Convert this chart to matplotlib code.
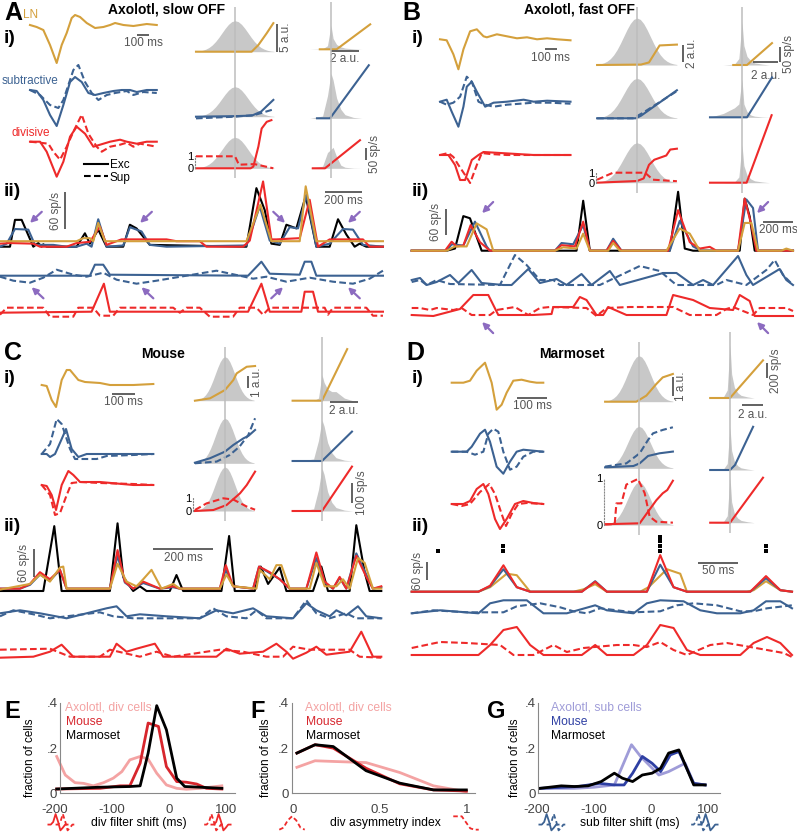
import numpy as np
import matplotlib.pyplot as plt
from matplotlib.lines import Line2D

plt.rcParams['font.family'] = ['Liberation Sans', 'DejaVu Sans']

W, H = 797, 835
fig = plt.figure(figsize=(W / 100, H / 100), dpi=100)

GOLD, BLUE, RED = '#D4A03C', '#3C6292', '#EE2A2A'
PURPLE, FILL, VLINE, GREY = '#8C6BC0', '#C8C8C8', '#BDBDBD', '#555555'

# ---------------- data ----------------
# filters: (sample, amplitude); ms per sample given by *_fdt
A_fdt, B_fdt, C_fdt, D_fdt = 2.78, 2.86, 1.43, 1.11
A_ln = [(0,0),(20,-2),(40,-5),(60,-20),(80,-38),(95,-20),(110,-8),(125,7),(135,10),(150,8),(170,2),(195,-3),(220,-2),(240,0),(255,2),(280,0),(310,-1),(350,1),(380,0)]
A_sub_exc = [(0,0),(20,-1),(40,-10),(60,-25),(80,-36),(100,-15),(120,8),(135,13),(155,8),(175,-3),(195,-5),(220,-3),(250,-1),(275,0),(300,0),(320,-2),(350,0),(380,0)]
A_sub_sup = [(0,0),(30,-5),(60,-15),(85,-18),(100,-10),(115,5),(130,20),(145,25),(165,8),(185,-3),(205,-10),(230,-5),(255,-3),(290,-1),(310,-5),(340,-2),(380,-3)]
A_div_exc = [(0,0),(30,0),(50,-10),(80,-35),(100,-20),(120,5),(140,15),(165,8),(190,-5),(210,-3),(240,0),(270,2),(290,0),(320,-2),(350,0),(380,0)]
A_div_sup = [(0,0),(30,-1),(55,-2),(70,-10),(90,-18),(110,-5),(130,10),(155,27),(175,8),(200,-5),(215,-10),(240,-5),(270,-3),(290,-1),(310,-5),(330,-2),(380,-5)]
B_ln = [(0,0),(20,-1),(40,-15),(55,-30),(70,-10),(90,8),(110,10),(130,3),(140,2),(170,5),(200,3),(230,1),(260,2),(290,0),(320,1),(350,0),(390,-1)]
B_sub_exc = [(0,0),(20,2),(35,-10),(55,-25),(70,-5),(80,15),(95,20),(110,10),(135,-5),(160,-1),(200,0),(250,2),(280,0),(320,1),(390,0)]
B_sub_sup = [(0,0),(20,-3),(40,-1),(60,5),(80,25),(95,20),(115,0),(135,-3),(160,-5),(200,-3),(240,-2),(280,-1),(330,-1),(390,-2)]
B_div_exc = [(0,0),(25,0),(45,-10),(60,-25),(75,-25),(95,-5),(115,0),(130,3),(180,2),(230,1),(280,0),(390,0)]
B_div_sup = [(0,0),(25,2),(40,-2),(55,-10),(75,-20),(90,-28),(110,-10),(125,2),(150,1),(200,0),(390,0)]
C_ln = [(0,0),(15,-1),(30,-15),(43,-22),(60,5),(75,15),(85,15),(110,5),(130,3),(175,2),(205,0),(275,0),(335,1)]
C_sub_exc = [(0,0),(15,0),(25,-3),(40,0),(60,15),(73,25),(90,5),(110,-3),(135,0),(175,0),(275,0),(335,0)]
C_sub_sup = [(0,0),(25,10),(45,35),(60,30),(85,5),(100,-5),(135,-5),(165,-5),(195,-2),(275,-1),(335,0)]
C_div_exc = [(0,0),(15,-1),(30,-10),(43,-25),(60,0),(80,14),(95,10),(115,3),(175,3),(275,0),(335,0)]
C_div_sup = [(0,0),(25,-10),(40,-30),(55,-28),(75,-10),(90,2),(115,3),(175,2),(275,1),(335,0)]
D_ln = [(0,0),(35,0),(55,2),(75,12),(100,20),(120,0),(135,-27),(150,-22),(165,-10),(185,2),(210,3),(235,1),(255,0),(275,0)]
D_sub_exc = [(0,0),(45,0),(60,5),(85,18),(100,22),(115,10),(135,-15),(155,-22),(175,-10),(195,0),(215,2),(245,1),(275,0)]
D_sub_sup = [(0,0),(45,0),(70,-3),(95,0),(110,18),(125,23),(140,20),(155,0),(175,-18),(195,-15),(215,-5),(245,0),(275,0)]
D_div_exc = [(0,0),(35,0),(55,3),(75,15),(95,20),(110,10),(130,-15),(145,-25),(165,-15),(190,0),(215,3),(245,1),(275,0)]
D_div_sup = [(0,0),(30,-2),(55,0),(85,12),(113,20),(130,10),(150,-10),(163,-22),(180,-10),(200,0),(225,1),(275,0)]

# nonlinearities, column 1: (generator, a.u.); weights 0..1
gauss_x = [-3,-2.75,-2.5,-2.25,-2,-1.75,-1.5,-1.25,-1,-0.75,-0.5,-0.25,0,0.25,0.5,0.75,1,1.25,1.5,1.75,2,2.25,2.5,2.75,3]
gauss_y = [.011,.023,.044,.08,.135,.216,.325,.458,.607,.755,.882,.969,1,.969,.882,.755,.607,.458,.325,.216,.135,.08,.044,.023,.011]
A_nl_ln = [(-3,0),(1.28,0),(1.8,1.2),(2.44,3.3),(2.95,5.1)]
A_nl_sub_exc = [(-3,0),(0,0.1),(1.3,0.2),(2,0.9),(2.95,3.0)]
A_nl_sub_sup = [(-3,-0.3),(0,0),(1.5,0.3),(2.95,1.3)]
A_nl_div = [(-3,0),(1.2,0),(1.41,0.3),(1.8,3.9),(2.05,7.1),(2.44,8.3),(2.8,8.6)]
A_w_div = [(-3,1),(0,1),(0.3,0.3),(1.5,0.35),(2.95,0.0)]
B_nl_ln = [(-3,0),(0.3,0.05),(0.9,0.3),(1.3,1.3),(1.7,2.3),(3,2.4)]
B_nl_sub_exc = [(-3,0),(-0.1,0),(0.3,0.3),(3,3.3)]
B_nl_sub_sup = [(-3,0),(-0.3,0),(0.4,0.6),(3,3.2)]
B_nl_div = [(-3,0),(0,0.2),(0.5,0.5),(0.9,2.1),(1.3,2.7),(2.2,3.2),(2.5,3.9),(3,4.0)]
B_w_div = [(-3,0.3),(-1.8,1),(0.6,1),(1.2,0.3),(3,0.15)]
C_nl_ln = [(-3.1,0),(-1.55,0.19),(0,0.87),(0.86,1.68),(1.2,2.22),(2.24,2.76),(3.1,2.82)]
C_nl_sub_exc = [(-3.1,0.05),(-1.55,0.41),(0,0.95),(0.86,1.49),(1.9,2.03),(2.4,2.22),(3.1,2.71)]
C_nl_sub_sup = [(-3.1,0),(-0.86,0.14),(0.5,0.68),(1.5,1.36),(2.4,2.3),(3.1,3.66)]
C_nl_div = [(-3.1,0),(-1.2,0.08),(0.17,0.49),(1.55,1.44),(2.24,2.11),(3.1,3.2)]
C_w_div = [(-3.1,0.08),(-1.9,0.6),(-0.17,1.0),(0.86,0.9),(2.24,0.35),(3.1,0.1)]
D_nl_ln = [(-3,0),(-0.24,0),(0.65,0.32),(1.53,0.93),(2.1,1.28),(3,1.46)]
D_nl_sub_exc = [(-3,0.05),(-0.5,0.12),(0.06,0.26),(0.8,0.65),(1.82,0.79),(3,0.88)]
D_nl_sub_sup = [(-3,0.09),(-1.12,0.26),(0.06,0.79),(0.8,1.49),(1.24,1.84),(2.1,2.02),(3,2.16)]
D_nl_div = [(-3,0.04),(0.06,0.09),(0.8,0.7),(1.53,1.3),(2.1,1.67),(2.5,1.84),(3,2.33)]
D_w_div = [(-3,0.01),(-2.15,0.02),(-2,0.46),(-1.56,0.46),(-1.12,0.86),(-0.1,0.98),(0.5,0.68),(0.94,0.18),(1.53,0.07),(3,0.05)]

# nonlinearities, column 2: (a.u., sp/s)
gen_x = [-2.6,-1.5,-0.6,-0.25,0,0.15,0.4,0.7,1.0,1.6,2.2]
gen_skinny = [0,0,0.02,0.15,1.0,0.45,0.2,0.1,0.05,0.02,0]
gen_wide = [0,0,0.05,0.5,1.0,0.85,0.45,0.2,0.08,0.02,0]
gen_plateau = [0,0,0.1,0.75,0.9,1.0,0.55,0.15,0.05,0.01,0]
gen_shoulder = [0,0.1,0.25,0.35,1.0,0.35,0.15,0.06,0.03,0.01,0]
gen_tail = [0,0,0,0.1,1.0,0.7,0.45,0.35,0.35,0.1,0]
A_out_ln = [(-0.8,0),(0.4,0),(2.8,104)]
A_out_sub = [(-1.0,0),(-0.07,0),(2.7,221)]
A_out_div = [(-1.3,0),(-0.43,0),(2.07,117)]
B_out_ln = [(-0.7,0),(0.4,0),(2.4,73)]
B_out_sub = [(-2.56,0),(0.4,0),(2.4,133)]
B_out_div = [(-2.56,0),(0.37,0),(2.37,225)]
C_out_ln = [(-2.1,0),(0,0),(1.8,258)]
C_out_sub = [(-2.1,0),(0,0),(2.14,147)]
C_out_div = [(-2.1,0),(0,0),(2.14,222)]
D_out_ln = [(-1.8,0),(0,0),(3.0,502)]
D_out_sub = [(-1.8,0),(0,0),(0.45,66),(2.1,576)]
D_out_div = [(-1.8,0),(0,0),(3.0,600)]

# responses: (sample, sp/s) top rows; (sample, a.u.) model drives
A_rdt, B_rdt, C_rdt, D_rdt = 1.8, 2.22, 1.11, 0.417
A_black = [(0,0),(30,0),(45,44),(65,44),(100,0),(115,6),(125,0),(130,4),(140,0),(230,0),(255,22),(270,5),(295,28),(320,0),(370,0),(390,36),(410,30),(450,3),(740,0),(770,96),(795,60),(815,5),(840,3),(860,36),(890,30),(918,83),(950,0),(990,0),(1015,45),(1040,20),(1065,0),(1080,5),(1100,0),(1150,0)]
A_blue = [(0,0),(20,5),(45,29),(85,28),(105,3),(160,3),(200,0),(230,0),(260,5),(275,0),(295,45),(320,0),(370,2),(390,32),(425,25),(450,3),(500,0),(740,2),(780,66),(810,10),(840,5),(870,32),(895,30),(920,85),(950,0),(990,5),(1030,29),(1060,28),(1090,3),(1150,0)]
A_red = [(0,5),(30,6),(100,5),(120,0),(200,0),(230,6),(270,8),(300,33),(320,3),(365,12),(500,12),(530,9),(600,9),(620,0),(730,0),(750,10),(790,107),(815,12),(830,12),(900,14),(930,77),(955,0),(990,12),(1090,12),(1110,0),(1150,0)]
A_gold = [(0,9),(230,9),(250,14),(270,14),(280,9),(295,39),(315,9),(740,9),(782,69),(815,9),(900,9),(918,99),(950,9),(1150,9)]
A_sub_r = [(0,0),(270,0),(285,11),(310,11),(330,1),(745,0),(785,14),(810,2),(900,1),(915,14),(935,14),(950,0),(1150,0)]
A_sub_sup_r = [(0,-1),(40,-5),(90,-7),(130,-2),(170,6),(220,1),(260,-1),(310,3),(350,-4),(410,-8),(470,-5),(560,0),(650,5),(720,0),(760,-3),(800,-1),(860,-6),(930,-2),(1000,-6),(1060,-8),(1110,-3),(1150,5)]
A_div_r = [(0,-1),(275,0),(312,28),(330,0),(745,0),(785,28),(810,0),(905,0),(915,20),(940,20),(955,0),(1150,0)]
A_div_sup_r = [(0,-3),(20,4),(130,4),(150,-5),(220,-5),(235,4),(280,4),(300,-4),(340,-4),(360,4),(520,4),(540,-1),(560,4),(600,4),(630,-5),(700,-5),(720,4),(770,4),(790,-3),(810,4),(975,4),(985,-3),(1000,4),(1100,4),(1120,-4),(1150,-4)]
B_black = [(0,0),(105,0),(130,5),(155,81),(175,76),(210,0),(495,0),(515,117),(535,0),(775,0),(800,138),(820,5),(845,0),(985,0),(1000,122),(1015,80),(1030,0),(1145,0)]
B_red = [(0,0),(100,0),(120,21),(135,10),(155,12),(177,60),(205,20),(235,0),(430,0),(450,13),(490,10),(515,68),(535,0),(585,0),(605,23),(630,0),(770,0),(800,95),(835,20),(865,5),(895,9),(915,0),(980,0),(1000,122),(1020,60),(1035,0),(1145,0)]
B_blue = [(0,0),(105,0),(120,15),(155,12),(190,68),(225,10),(235,0),(430,0),(450,18),(485,15),(515,60),(535,0),(585,0),(605,28),(630,0),(775,0),(805,70),(845,10),(870,0),(980,0),(1005,120),(1025,100),(1040,0),(1145,0)]
B_gold = [(0,0),(105,0),(130,10),(165,10),(195,64),(225,50),(245,0),(430,0),(455,8),(495,5),(515,40),(535,0),(590,0),(605,18),(625,0),(765,0),(805,52),(835,40),(865,0),(980,0),(1000,65),(1020,65),(1040,0),(1110,0),(1125,5),(1145,0)]
B_sub_r = [(0,5),(25,7),(45,0),(75,3),(115,10),(140,2),(180,15),(210,2),(275,0),(300,0),(350,16),(385,2),(435,6),(465,0),(510,11),(540,0),(595,14),(625,0),(755,12),(795,12),(845,0),(875,5),(905,0),(980,29),(1005,10),(1025,0),(1105,16),(1125,5),(1145,0)]
B_sub_sup_r = [(0,3),(25,5),(45,0),(75,5),(115,1),(265,0),(310,30),(345,20),(385,5),(425,5),(445,0),(565,0),(685,19),(745,14),(795,0),(915,0),(945,5),(1005,0),(1065,15),(1090,25),(1115,10),(1145,0)]
B_div_r = [(0,0),(65,-1),(145,6),(185,20),(230,20),(260,0),(365,0),(420,1),(425,8),(485,8),(505,18),(525,15),(555,0),(575,0),(590,8),(645,0),(765,0),(785,20),(845,15),(895,7),(965,5),(985,20),(1015,14),(1030,-1),(1145,-1)]
B_div_sup_r = [(0,7),(25,7),(55,5),(75,7),(125,5),(150,7),(180,0),(235,0),(255,5),(310,8),(350,0),(385,7),(415,8),(525,7),(555,-1),(585,7),(655,8),(785,8),(835,0),(915,0),(945,6),(965,8),(1025,0),(1045,7),(1125,7),(1145,4)]
C_black = [(0,0),(130,0),(163,138),(185,0),(330,0),(353,144),(370,30),(400,0),(420,10),(440,0),(510,0),(530,34),(550,0),(665,0),(688,117),(705,0),(765,0),(783,52),(805,15),(840,50),(860,0),(940,0),(965,52),(985,0),(1050,0),(1070,140),(1095,40),(1110,0),(1145,0)]
C_red = [(0,5),(60,5),(90,15),(120,40),(150,25),(180,45),(200,5),(330,5),(353,87),(375,20),(400,5),(430,20),(480,5),(520,10),(540,5),(660,5),(678,55),(700,10),(760,5),(778,52),(810,40),(840,25),(870,5),(920,5),(950,82),(975,20),(1000,5),(1020,30),(1040,5),(1070,75),(1100,30),(1120,5),(1145,10)]
C_blue = [(0,5),(60,5),(90,13),(120,35),(150,22),(180,45),(200,5),(330,5),(353,75),(375,18),(400,5),(430,17),(480,5),(520,8),(540,5),(660,5),(678,45),(700,10),(760,5),(778,52),(810,38),(840,25),(870,5),(920,5),(950,70),(975,18),(1000,5),(1020,28),(1040,5),(1070,80),(1100,35),(1120,5),(1145,8)]
C_gold = [(0,3),(90,15),(120,35),(150,20),(180,50),(190,52),(200,5),(330,5),(353,58),(380,20),(410,10),(430,25),(455,45),(485,5),(520,15),(540,5),(660,5),(680,35),(700,10),(770,5),(780,45),(810,25),(830,55),(845,55),(870,5),(930,5),(950,60),(975,10),(1010,10),(1030,25),(1050,5),(1075,70),(1095,60),(1120,5),(1145,5)]
C_sub_r = [(0,5),(60,8),(120,5),(200,0),(260,5),(320,10),(350,12),(380,2),(420,4),(500,2),(600,0),(650,8),(700,5),(760,10),(800,2),(880,0),(920,15),(950,8),(990,2),(1010,8),(1040,3),(1075,12),(1100,2),(1145,0)]
C_sub_sup_r = [(0,2),(40,8),(100,4),(150,0),(300,6),(340,2),(400,0),(600,0),(640,10),(680,2),(740,0),(770,8),(800,0),(880,0),(920,18),(950,5),(990,0),(1040,5),(1070,0),(1145,0)]
C_div_r = [(0,-1),(100,0),(150,5),(185,12),(220,0),(330,0),(350,13),(380,5),(410,8),(465,13),(490,0),(650,0),(680,8),(720,3),(790,5),(830,13),(860,5),(880,-2),(920,4),(950,10),(980,2),(1050,5),(1085,25),(1120,0),(1145,0)]
C_div_sup_r = [(0,7),(150,8),(210,0),(300,0),(330,7),(420,0),(470,5),(520,0),(660,7),(730,5),(800,0),(850,0),(880,10),(930,7),(1050,7),(1080,0),(1145,-1)]
D_red = [(0,0),(200,0),(235,20),(275,88),(315,15),(355,0),(510,0),(550,33),(585,0),(705,0),(745,122),(785,15),(825,0),(1015,0),(1062,52),(1105,5),(1140,0)]
D_blue = [(0,0),(200,0),(235,18),(275,75),(315,15),(355,0),(510,0),(550,35),(585,0),(705,0),(745,90),(785,15),(825,0),(1015,0),(1062,45),(1105,5),(1140,0)]
D_gold = [(0,0),(200,0),(235,15),(285,60),(315,55),(355,0),(485,0),(515,8),(550,25),(585,0),(685,0),(710,15),(765,75),(805,60),(825,0),(1005,0),(1025,5),(1062,35),(1105,5),(1140,0)]
D_spike_t = [80, 275, 745, 1062]
D_spike_n = [1, 2, 4, 2]
D_sub_r = [(0,0),(85,3),(200,0),(235,10),(275,13),(345,13),(395,0),(465,0),(550,8),(585,3),(665,0),(705,10),(745,13),(815,12),(865,3),(915,0),(985,0),(1025,3),(1062,12),(1105,12),(1140,5)]
D_sub_sup_r = [(0,0),(65,3),(165,1),(275,1),(315,7),(385,10),(445,6),(485,2),(525,0),(565,5),(665,1),(745,2),(795,8),(845,10),(915,8),(985,2),(1025,2),(1065,5),(1140,8)]
D_div_r = [(0,0),(200,0),(235,10),(275,25),(315,28),(355,10),(395,0),(510,0),(550,10),(585,0),(665,0),(705,10),(745,30),(785,27),(825,5),(865,0),(985,0),(1025,12),(1065,18),(1105,12),(1140,0)]
D_div_sup_r = [(0,7),(85,13),(165,12),(265,10),(305,0),(365,0),(425,10),(465,3),(515,7),(615,10),(665,10),(705,8),(745,13),(785,5),(825,0),(895,10),(945,12),(1015,8),(1065,5),(1115,2),(1140,-2)]

# population histograms
E_axo = [(-197,0.163),(-182,0.081),(-165,0.047),(-150,0.044),(-133,0.033),(-115,0.047),(-98,0.067),(-83,0.096),(-69,0.148),(-51,0.163),(-37,0.151),(-22,0.089),(-5,0.037),(13,0.022),(30,0.018),(54,0.022),(71,0.027),(92,0.033)]
E_mouse = [(-197,0.019),(-121,0.022),(-86,0.033),(-69,0.033),(-51,0.133),(-37,0.311),(-19,0.296),(-5,0.118),(13,0.052),(30,0.049),(48,0.041),(65,0.022),(92,0.019)]
E_marm = [(-197,0.019),(-121,0.027),(-69,0.03),(-51,0.033),(-37,0.178),(-22,0.388),(-5,0.281),(13,0.067),(27,0.03),(54,0.027),(92,0.022)]
F_axo = [(0.02,0.115),(0.125,0.144),(0.23,0.141),(0.42,0.136),(0.615,0.092),(0.81,0.033),(1.0,0.007)]
F_mouse = [(0.02,0.178),(0.125,0.215),(0.23,0.2),(0.42,0.111),(0.615,0.042),(0.81,0.015),(1.0,0.01)]
F_marm = [(0.02,0.178),(0.125,0.215),(0.23,0.207),(0.42,0.1),(0.615,0.045),(0.81,0.015),(1.0,0.015)]
G_axo = [(-194,0.022),(-134,0.022),(-99,0.027),(-64,0.037),(-34,0.215),(-18,0.163),(14,0.081),(31,0.096),(60,0.133),(75,0.044),(95,0.037)]
G_mouse = [(-194,0.022),(-128,0.03),(-90,0.044),(-64,0.037),(-47,0.037),(-32,0.089),(-15,0.163),(2,0.133),(17,0.096),(34,0.17),(49,0.185),(75,0.044),(95,0.037)]
G_marm = [(-194,0.022),(-157,0.033),(-134,0.03),(-110,0.033),(-87,0.052),(-64,0.089),(-50,0.067),(-32,0.052),(-15,0.081),(2,0.089),(17,0.111),(31,0.178),(49,0.192),(75,0.037),(95,0.037)]

icon_filter = [0, 0, 0.25, 1.0, 0.3, -0.55, -0.3, 0, 0]
icon_bump = [0, 0.15, 0.7, 1.0, 0.7, 0.15, 0]
icon_step = [1, 1, 1, 0.55, 0.1, 0, 0]


# ---------------- helpers ----------------
def place(x0, x1, xc, kx, y0, y1, yb, ky):
    a = fig.add_axes([x0 / W, 1 - y1 / H, (x1 - x0) / W, (y1 - y0) / H])
    a.set_xlim((x0 - xc) / kx, (x1 - xc) / kx)
    a.set_ylim((yb - y1) / ky, (yb - y0) / ky)
    a.axis('off')
    return a


def trace(ax, knots, color, dt=1.0, dash=False, lw=1.5, z=2):
    k = np.asarray(knots, float)
    kw = dict(color=color, lw=lw, zorder=z, clip_on=False)
    if dash:
        kw['dashes'] = (3.2, 1.6)
    ax.plot(k[:, 0] * dt, k[:, 1], **kw)


def text(x, y, s, **kw):
    fig.text(x / W, 1 - y / H, s, **kw)


def bar(ax, xs, ys):
    ax.plot(xs, ys, color=GREY, lw=1.3, clip_on=False, solid_capstyle='butt')


def small(ax, x, y, s, **kw):
    kw.setdefault('fontsize', 8.5)
    kw.setdefault('color', GREY)
    ax.text(x, y, s, clip_on=False, **kw)


def filters(xc, kx, dt, rows, curves, sb_t, sb_y):
    axs = []
    for (y0, y1, yb), cs in zip(rows, curves):
        a = place(xc - 3, xc + 135, xc, kx, y0, y1, yb, 1)
        for knots, col, dash in cs:
            trace(a, knots, col, dt, dash)
        axs.append(a)
    bar(axs[0], sb_t, [sb_y, sb_y])
    small(axs[0], sum(sb_t) / 2, sb_y - 2.5, '100 ms', ha='center', va='top')


def nl_col1(xc, kx, ky, rows, heights, curves):
    axs = []
    for (y0, y1, yb), h, cs in zip(rows, heights, curves):
        a = place(xc - 43, xc + 43, xc, kx, y0, y1, yb, ky)
        a.fill_between(gauss_x, np.array(gauss_y) * h / ky, color=FILL, lw=0, zorder=0)
        for knots, col, dash in cs:
            trace(a, knots, col, dash=dash)
        axs.append(a)
    v = place(xc - 43, xc + 43, xc, kx, rows[0][0] - 8, rows[2][2] + 10, rows[2][2] + 10, 1)
    v.axvline(0, color=VLINE, lw=1.1, zorder=-1)
    return axs


def nl_col2(xc, kx, ky, rows, heights, shapes, curves):
    axs = []
    for (y0, y1, yb), h, shp, (knots, col) in zip(rows, heights, shapes, curves):
        a = place(xc - 40, xc + 45, xc, kx, y0, y1, yb, ky)
        a.fill_between(gen_x, np.array(shp) * h / ky, color=FILL, lw=0, zorder=0)
        trace(a, knots, col)
        axs.append(a)
    v = place(xc - 40, xc + 45, xc, kx, rows[0][0] - 8, rows[2][2] + 10, rows[2][2] + 10, 1)
    v.axvline(0, color=VLINE, lw=1.1, zorder=-1)
    return axs


def weights(xc, kx, y0, y1, yb, kw, knots, xs):
    a = place(xc - 43, xc + 43, xc, kx, y0, y1, yb, kw)
    a.axis('on')
    a.patch.set_visible(False)
    for s in ['top', 'right', 'bottom']:
        a.spines[s].set_visible(False)
    sp = a.spines['left']
    sp.set_position(('data', xs))
    sp.set_bounds(0, 1)
    sp.set_linestyle(':')
    sp.set_color('#888888')
    a.set_xticks([])
    a.set_yticks([0, 1])
    a.set_yticklabels(['0', '1'], fontsize=8)
    a.tick_params(length=0, pad=1)
    trace(a, knots, RED, dash=True)


def responses(xc, kx, dt, top, mid, bot, tops, subs, divs):
    at = place(xc, xc + 385, xc, kx, *top)
    am = place(xc, xc + 385, xc, kx, *mid)
    ab = place(xc, xc + 385, xc, kx, *bot)
    for knots, col in tops:
        trace(at, knots, col, dt)
    trace(am, subs[0], BLUE, dt)
    trace(am, subs[1], BLUE, dt, dash=True)
    trace(ab, divs[0], RED, dt)
    trace(ab, divs[1], RED, dt, dash=True)
    return at, am, ab


def arrow(ax, xy, dx, dy):
    ax.annotate('', xy=xy, xytext=(dx, dy), textcoords='offset points',
                arrowprops=dict(arrowstyle='-|>', color=PURPLE, lw=1.6, mutation_scale=9,
                                shrinkA=0, shrinkB=0), annotation_clip=False)


def vscale(ax, x, y0, y1, tx, label):
    bar(ax, [x, x], [y0, y1])
    small(ax, tx, (y0 + y1) / 2, label, rotation=90, ha='right', va='center')


def hscale(ax, x0, x1, y, ty, label):
    bar(ax, [x0, x1], [y, y])
    small(ax, (x0 + x1) / 2, ty, label, ha='center', va='top')


# ---------------- panel A ----------------
filters(30, 0.12, A_fdt, [(5, 70, 25), (60, 130, 90), (110, 180, 141.7)],
        [[(A_ln, GOLD, False)],
         [(A_sub_sup, BLUE, True), (A_sub_exc, BLUE, False)],
         [(A_div_sup, RED, True), (A_div_exc, RED, False)]], [892, 992], -10)
a1 = nl_col1(235, 13, 5.6, [(15, 58, 51.7), (80, 125, 116.7), (130, 175, 168.3)], [31, 30, 31],
             [[(A_nl_ln, GOLD, False)],
              [(A_nl_sub_sup, BLUE, True), (A_nl_sub_exc, BLUE, False)],
              [(A_nl_div, RED, False)]])
weights(235, 13, 130, 175, 168.3, 12, A_w_div, -3.1)
bar(a1[0], [3.23, 3.23], [0, 5])
small(a1[0], 3.45, 2.5, '5 a.u.', rotation=90, ha='left', va='center')
a2 = nl_col2(331, 14, 0.24, [(10, 55, 49.3), (60, 122, 118.3), (135, 172, 168.3)], [24, 45, 21],
             [gen_skinny, gen_wide, gen_plateau],
             [(A_out_ln, GOLD), (A_out_sub, BLUE), (A_out_div, RED)])
hscale(a2[0], 0, 2, -7, -16, '2 a.u.')
bar(a2[2], [2.5, 2.5], [35, 85])
small(a2[2], 2.72, 60, '50 sp/s', rotation=90, ha='left', va='center')

at, am, ab = responses(0, 0.185, A_rdt, (176, 252, 246.7, 0.61), (250, 300, 275.7, 1), (280, 330, 311.7, 1),
                       [(A_black, 'black'), (A_blue, BLUE), (A_red, RED), (A_gold, GOLD)],
                       (A_sub_r, A_sub_sup_r), (A_div_r, A_div_sup_r))
vscale(at, 351, 29, 89, 335, '60 sp/s')
hscale(at, 1755, 1955, 90, 85, '200 ms')
for t, sx in [(162, 1), (757, 1), (1541, -1), (1881, 1)]:
    arrow(at, (t, 39), 8.5 * sx, 8)
for t, sx in [(171, 1), (765, 1), (1530, -1), (1881, 1)]:
    arrow(am, (t, -11.5), 8.5 * sx, -8)

# ---------------- panel B ----------------
filters(440, 0.117, B_fdt, [(5, 75, 39.3), (65, 135, 101.7), (130, 190, 155)],
        [[(B_ln, GOLD, False)],
         [(B_sub_sup, BLUE, True), (B_sub_exc, BLUE, False)],
         [(B_div_sup, RED, True), (B_div_exc, RED, False)]], [897, 997], -10)
b1 = nl_col1(637, 13.3, 8.5, [(15, 70, 65), (75, 122, 118.3), (140, 188, 182.7)], [47, 40, 40],
             [[(B_nl_ln, GOLD, False)],
              [(B_nl_sub_sup, BLUE, True), (B_nl_sub_exc, BLUE, False)],
              [(B_nl_div, RED, False)]])
weights(637, 13.3, 140, 188, 182.7, 10, B_w_div, -3.1)
bar(b1[0], [3.46, 3.46], [0.35, 2.35])
small(b1[0], 3.7, 1.35, '2 a.u.', rotation=90, ha='left', va='center')
b2 = nl_col2(742, 12.5, 0.3, [(15, 68, 65), (70, 122, 117.3), (110, 188, 182.7)], [43, 38, 38],
             [gen_skinny, gen_shoulder, gen_skinny],
             [(B_out_ln, GOLD), (B_out_sub, BLUE), (B_out_div, RED)])
bar(b2[0], [3.04, 3.04], [11, 61])
small(b2[0], 3.28, 36, '50 sp/s', rotation=90, ha='left', va='center')
hscale(b2[0], 0.9, 2.9, 11, -17, '2 a.u.')

bt, bm, bb = responses(411.7, 0.15, B_rdt, (178, 256, 250.7, 0.427), (245, 300, 285, 1), (290, 330, 315, 1),
                       [(B_black, 'black'), (B_blue, BLUE), (B_red, RED), (B_gold, GOLD)],
                       (B_sub_r, B_sub_sup_r), (B_div_r, B_div_sup_r))
vscale(bt, 227, 37, 97, 200, '60 sp/s')
hscale(bt, 2342, 2542, 68, 62, '200 ms')
for t in [469, 2302]:
    arrow(bt, (t, 88), 8, 8)
    arrow(bb, (t, -7), 8, -8)

# ---------------- panel C ----------------
filters(41.7, 0.233, C_fdt, [(360, 420, 385), (410, 480, 454), (460, 525, 485)],
        [[(C_ln, GOLD, False)],
         [(C_sub_sup, BLUE, True), (C_sub_exc, BLUE, False)],
         [(C_div_sup, RED, True), (C_div_exc, RED, False)]], [302, 402], -9)
c1 = nl_col1(225, 9.7, 12.3, [(355, 405, 400.7), (415, 467, 463.3), (465, 515, 511)], [44, 45, 44],
             [[(C_nl_ln, GOLD, False)],
              [(C_nl_sub_sup, BLUE, True), (C_nl_sub_exc, BLUE, False)],
              [(C_nl_div, RED, False)]])
weights(225, 9.7, 465, 515, 511, 12.7, C_w_div, -3.3)
bar(c1[0], [2.37, 2.37], [1.03, 2.03])
small(c1[0], 2.7, 1.53, '1 a.u.', rotation=90, ha='left', va='center')
c2 = nl_col2(322, 14, 0.2, [(345, 405, 400.7), (415, 465, 461), (465, 515, 511)], [26, 41, 43],
             [gen_tail, gen_wide, gen_wide],
             [(C_out_ln, GOLD), (C_out_sub, BLUE), (C_out_div, RED)])
hscale(c2[0], 0.57, 2.57, -5, -20, '2 a.u.')
bar(c2[2], [2.12, 2.12], [40, 140])
small(c2[2], 2.4, 90, '100 sp/s', rotation=90, ha='left', va='center')

ct, cm, cb = responses(0, 0.3, C_rdt, (515, 596, 591, 0.47), (595, 640, 618.3, 1), (630, 665, 656.7, 1),
                       [(C_black, 'black'), (C_blue, BLUE), (C_red, RED), (C_gold, GOLD)],
                       (C_sub_r, C_sub_sup_r), (C_div_r, C_div_sup_r))
vscale(ct, 114, 30, 90, 100, '60 sp/s')
hscale(ct, 511, 711, 89.5, 84, '200 ms')

# ---------------- panel D ----------------
filters(451.7, 0.3, D_fdt, [(360, 420, 382.7), (420, 480, 451.7), (470, 530, 504)],
        [[(D_ln, GOLD, False)],
         [(D_sub_sup, BLUE, True), (D_sub_exc, BLUE, False)],
         [(D_div_sup, RED, True), (D_div_exc, RED, False)]], [218, 318], -15)
d1 = nl_col1(639, 11.3, 19, [(350, 405, 401.7), (420, 472, 468.3), (470, 530, 525)], [46, 42, 43],
             [[(D_nl_ln, GOLD, False)],
              [(D_nl_sub_sup, BLUE, True), (D_nl_sub_exc, BLUE, False)],
              [(D_nl_div, RED, False)]])
weights(639, 11.3, 470, 530, 525, 47, D_w_div, -3.1)
bar(d1[0], [2.98, 2.98], [0.3, 1.3])
small(d1[0], 3.15, 0.8, '1 a.u.', rotation=90, ha='left', va='center')
d2 = nl_col2(730, 11, 0.075, [(340, 402, 398), (420, 474, 470), (470, 527, 522.7)], [53, 43, 46],
             [gen_skinny, gen_skinny, gen_skinny],
             [(D_out_ln, GOLD), (D_out_sub, BLUE), (D_out_div, RED)])
bar(d2[0], [3.33, 3.33], [267, 467])
small(d2[0], 3.6, 367, '200 sp/s', rotation=90, ha='left', va='center')
hscale(d2[0], 1.06, 3.0, -93, -140, '2 a.u.')

dt_, dm, db = responses(411.7, 0.8, D_rdt, (525, 597, 591.7, 0.3), (595, 640, 613.3, 1), (628, 665, 655, 1),
                        [(D_gold, GOLD), (D_blue, BLUE), (D_red, RED)],
                        (D_sub_r, D_sub_sup_r), (D_div_r, D_div_sup_r))
for t, n in zip(D_spike_t, D_spike_n):
    dt_.plot([t * D_rdt] * n, [136 + 16 * i for i in range(n)], 's', color='black', ms=2.8,
             mew=0, clip_on=False)
vscale(dt_, 19.5, 39, 99, 16, '60 sp/s')
hscale(dt_, 358, 408, 96.7, 90, '50 ms')

# ---------------- labels for A-D ----------------
for x, y, s in [(4, 1, 'A'), (402, 1, 'B'), (4, 341, 'C'), (406, 341, 'D')]:
    text(x, y, s, fontsize=18, fontweight='bold', va='top')
for x, y in [(4, 30), (412, 30), (4, 370), (412, 370)]:
    text(x, y, 'i)', fontsize=14, fontweight='bold', va='top')
for x, y in [(4, 183), (412, 183), (4, 518), (412, 518)]:
    text(x, y, 'ii)', fontsize=14, fontweight='bold', va='top')
for x, y, s in [(167, 3, 'Axolotl, slow OFF'), (579, 3, 'Axolotl, fast OFF'),
                (163, 347, 'Mouse'), (572, 347, 'Marmoset')]:
    text(x, y, s, fontsize=10, fontweight='bold', ha='center', va='top')
text(23, 9, 'LN', fontsize=8.5, color=GOLD, va='top')
text(2, 75, 'subtractive', fontsize=8.5, color=BLUE, va='top')
text(12, 127, 'divisive', fontsize=8.5, color=RED, va='top')
fig.legend(handles=[Line2D([], [], color='black', lw=1.5),
                    Line2D([], [], color='black', lw=1.5, dashes=(3.2, 1.6))],
           labels=['Exc', 'Sup'], loc='upper left', bbox_to_anchor=(84 / W, 1 - 159 / H),
           frameon=False, fontsize=8.5, handlelength=2.0, handletextpad=0.2,
           labelspacing=0.05, borderpad=0, borderaxespad=0)

# ---------------- panels E, F, G ----------------
PINK, MOUSE_R = '#F4A3A3', '#D7262D'
LILAC, MOUSE_B = '#9F9CD8', '#2E3FA3'


def hist_ax(x0, x1, xlim, spine_x, xt, xtl, curves):
    a = fig.add_axes([x0 / W, 1 - 793.3 / H, (x1 - x0) / W, 93.3 / H])
    a.patch.set_visible(False)
    for knots, col in curves:
        k = np.asarray(knots)
        a.plot(k[:, 0], k[:, 1], color=col, lw=2.0, clip_on=False)
    a.set_xlim(*xlim)
    a.set_ylim(0, 0.413)
    for s in ['top', 'right']:
        a.spines[s].set_visible(False)
    for s in ['left', 'bottom']:
        a.spines[s].set_color('#888888')
    a.spines['left'].set_position(('data', spine_x))
    a.spines['left'].set_bounds(0, 0.4)
    a.spines['bottom'].set_bounds(spine_x, xlim[1])
    a.set_yticks([0, 0.2, 0.4])
    a.set_yticklabels(['0', '.2', '.4'])
    a.set_xticks(xt)
    a.set_xticklabels(xtl)
    a.tick_params(length=0, labelsize=9.5, labelcolor='#444444')
    a.tick_params(axis='x', pad=8)
    a.tick_params(axis='y', pad=2)
    return a


hist_ax(55, 235, (-200, 115), -191, [-200, -100, 0, 100], ['-200', '-100', '0', '100'],
        [(E_axo, PINK), (E_mouse, MOUSE_R), (E_marm, 'black')])
hist_ax(291.7, 475, (-0.01, 1.05), -0.01, [0, 0.5, 1], ['0', '0.5', '1'],
        [(F_axo, PINK), (F_mouse, MOUSE_R), (F_marm, 'black')])
hist_ax(536.7, 720, (-197, 121), -197, [-200, -100, 0, 100], ['-200', '-100', '0', '100'],
        [(G_axo, LILAC), (G_mouse, MOUSE_B), (G_marm, 'black')])

for x, s in [(4, 'E'), (250, 'F'), (487, 'G')]:
    text(x, 700, s, fontsize=17, fontweight='bold', va='top')
for x, top, col in [(65, 'Axolotl, div cells', PINK), (305, 'Axolotl, div cells', PINK),
                    (551, 'Axolotl, sub cells', LILAC)]:
    text(x, 702, top, fontsize=8.7, color=col, va='top')
for x, mc in [(66, MOUSE_R), (306, MOUSE_R), (551, MOUSE_B)]:
    text(x, 716, 'Mouse', fontsize=8.7, color=mc, va='top')
    text(x, 730, 'Marmoset', fontsize=8.7, color='black', va='top')
for x in [30, 266, 515]:
    text(x, 758, 'fraction of cells', fontsize=8.5, rotation=90, ha='center', va='center')
for x, s in [(139, 'div filter shift (ms)'), (385, 'div asymmetry index'), (630, 'sub filter shift (ms)')]:
    text(x, 823, s, fontsize=8.7, ha='center', va='center')

# small filter icons under the x axes
ix = np.arange(len(icon_filter))
for x0, col, lag in [(40, RED, 3), (203, RED, -3), (531, BLUE, 3), (690, BLUE, -3)]:
    a = fig.add_axes([x0 / W, 1 - 833 / H, 36 / W, 20 / H])
    a.axis('off')
    a.plot(ix, icon_filter, color=col, lw=1.3)
    a.plot(ix + lag, icon_filter, color=col, lw=1.3, dashes=(2.5, 1.5))
    a.set_xlim(-3.5, 11.5)
    a.set_ylim(-0.8, 1.1)
for x0, shape in [(278, icon_bump), (452, icon_step)]:
    a = fig.add_axes([x0 / W, 1 - 831 / H, 28 / W, 16 / H])
    a.axis('off')
    a.plot(np.arange(len(shape)), shape, color=RED, lw=1.3, dashes=(2.5, 1.5))
    a.set_ylim(-0.1, 1.1)

fig.savefig('out.png', dpi=100)
